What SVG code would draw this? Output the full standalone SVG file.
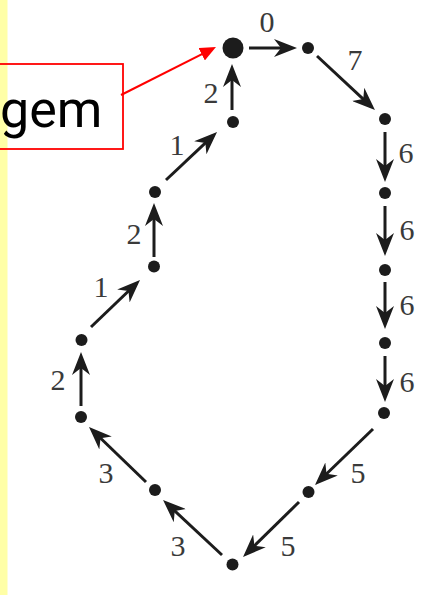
<svg xmlns="http://www.w3.org/2000/svg" width="436" height="595" viewBox="0 0 436 595">
  <style>
    .edge { stroke: #1c1c1c; stroke-width: 3; fill: none; marker-end: url(#head); }
    .dot { fill: #1c1c1c; }
    .lbl { font-family: "Liberation Serif", "Times New Roman", serif; font-size: 30px; fill: #3a3a3a; text-anchor: middle; }
    .callout { fill: none; stroke: #ff0000; stroke-width: 1.8; }
    .callout-text { font-family: Roboto, "Liberation Sans", Arial, sans-serif; font-size: 52px; fill: #000000; }
    .pointer { stroke: #ff0000; stroke-width: 2; fill: none; marker-end: url(#redhead); }
  </style>
  <defs>
    <marker id="head" markerUnits="userSpaceOnUse" markerWidth="23" markerHeight="18" viewBox="0 0 23 18" refX="18" refY="9" orient="auto">
      <path d="M0,0 L23,9 L0,18 L7,9 Z" fill="#1c1c1c"/>
    </marker>
    <marker id="redhead" markerUnits="userSpaceOnUse" markerWidth="16" markerHeight="14" viewBox="0 0 16 14" refX="12" refY="7" orient="auto">
      <path d="M0,0 L16,7 L0,14 Z" fill="#ff0000"/>
    </marker>
  </defs>

  <rect x="0" y="0" width="436" height="595" fill="#ffffff"/>
  <rect x="0" y="0" width="7.5" height="595" fill="#ffffa6"/>

  <g id="connectors">
    <line class="edge" x1="249" y1="48" x2="292" y2="48"/>
    <line class="edge" x1="317" y1="56" x2="371.3" y2="106.6"/>
    <line class="edge" x1="385" y1="132" x2="385" y2="177"/>
    <line class="edge" x1="385" y1="206" x2="385" y2="251"/>
    <line class="edge" x1="385" y1="282" x2="385" y2="324"/>
    <line class="edge" x1="385" y1="356" x2="385" y2="397"/>
    <line class="edge" x1="373" y1="429" x2="318.6" y2="481.5"/>
    <line class="edge" x1="299" y1="502" x2="246.6" y2="553.5"/>
    <line class="edge" x1="222" y1="555" x2="166.7" y2="503.4"/>
    <line class="edge" x1="146" y1="482" x2="92.6" y2="430.5"/>
    <line class="edge" x1="81" y1="406" x2="81" y2="357"/>
    <line class="edge" x1="91" y1="327" x2="136.4" y2="283.5"/>
    <line class="edge" x1="154" y1="257" x2="154" y2="208"/>
    <line class="edge" x1="166" y1="180" x2="213.4" y2="135.4"/>
    <line class="edge" x1="232" y1="110" x2="232" y2="69"/>

    <text class="lbl" x="267" y="32">0</text>
    <text class="lbl" x="355" y="70">7</text>
    <text class="lbl" x="406" y="163">6</text>
    <text class="lbl" x="407" y="240">6</text>
    <text class="lbl" x="407" y="315">6</text>
    <text class="lbl" x="407" y="392">6</text>
    <text class="lbl" x="358" y="483">5</text>
    <text class="lbl" x="288" y="556">5</text>
    <text class="lbl" x="178" y="556">3</text>
    <text class="lbl" x="106" y="483">3</text>
    <text class="lbl" x="58" y="390">2</text>
    <text class="lbl" x="101" y="297">1</text>
    <text class="lbl" x="134" y="244">2</text>
    <text class="lbl" x="177" y="155">1</text>
    <text class="lbl" x="211" y="103">2</text>

    <line class="pointer" x1="121" y1="95" x2="212.4" y2="48.8"/>
  </g>

  <g id="node-start"><circle class="dot" cx="233" cy="48" r="10.5"/></g>
  <g id="node-b"><circle class="dot" cx="308" cy="48" r="6"/></g>
  <g id="node-c"><circle class="dot" cx="385" cy="119" r="6"/></g>
  <g id="node-d"><circle class="dot" cx="385" cy="193" r="6"/></g>
  <g id="node-e"><circle class="dot" cx="385" cy="270" r="6"/></g>
  <g id="node-f"><circle class="dot" cx="385" cy="343" r="6"/></g>
  <g id="node-g"><circle class="dot" cx="384" cy="413" r="6"/></g>
  <g id="node-h"><circle class="dot" cx="308.5" cy="492" r="6"/></g>
  <g id="node-i"><circle class="dot" cx="232.5" cy="564.5" r="6"/></g>
  <g id="node-j"><circle class="dot" cx="155" cy="490" r="6"/></g>
  <g id="node-k"><circle class="dot" cx="81" cy="417" r="6"/></g>
  <g id="node-l"><circle class="dot" cx="81.5" cy="340" r="6"/></g>
  <g id="node-m"><circle class="dot" cx="154" cy="266.5" r="6"/></g>
  <g id="node-n"><circle class="dot" cx="155" cy="192" r="6"/></g>
  <g id="node-o"><circle class="dot" cx="233" cy="122" r="6"/></g>

  <g id="callout">
    <rect class="callout" x="-2" y="64" width="125" height="85"/>
    <text class="callout-text" x="0" y="127">gem</text>
  </g>
</svg>
